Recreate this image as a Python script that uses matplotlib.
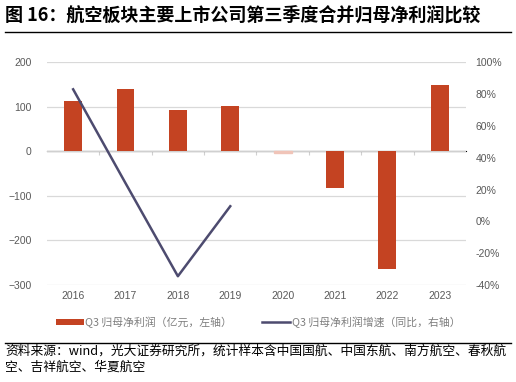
import numpy as np
import matplotlib
matplotlib.use('Agg')
import matplotlib.pyplot as plt
from matplotlib.ticker import FuncFormatter, FixedLocator, NullFormatter

plt.rcParams['font.family'] = ['Noto Sans CJK SC', 'DejaVu Sans']

years = ['2016', '2017', '2018', '2019', '2020', '2021', '2022', '2023']
profit = [114, 141, 92, 101, -3, -82, -264, 150]        # 亿元, left axis
growth_years = ['2016', '2017', '2018', '2019']
growth = [83, 24, -34.5, 9.5]                          # %, right axis

title = '图 16：航空板块主要上市公司第三季度合并归母净利润比较'
bar_label = 'Q3 归母净利润（亿元，左轴）'
line_label = 'Q3 归母净利润增速（同比，右轴）'
source = ('资料来源：wind，光大证券研究所，统计样本含中国国航、中国东航、南方航空、春秋航\n'
          '空、吉祥航空、华夏航空')

bar_color = '#C44322'
line_color = '#4D4B6F'
grid_color = '#D9D9D9'
tick_color = '#595959'
tick_font = ['Liberation Sans', 'DejaVu Sans']

fig = plt.figure(figsize=(5.16, 3.82), dpi=100)
ax = fig.add_axes([0.091, 0.254, 0.812, 0.583])

x = np.arange(len(years))
bars = ax.bar(x, profit, width=0.34, color=bar_color, zorder=3, label=bar_label)
bars[4].set_color('#F0C4B8')

ax.set_xlim(-0.5, len(years) - 0.5)
ax.set_ylim(-300, 200)
ax.set_yticks([-300, -200, -100, 0, 100, 200])
for v in [-300, -200, -100, 100, 200]:
    ax.axhline(v, color=grid_color, lw=0.9, zorder=1)
ax.axhline(0, color='#D0D0D0', lw=1.0, zorder=2)

for s in ax.spines.values():
    s.set_visible(False)
ax.set_xticks(x)
ax.set_xticklabels(years, fontsize=7.5, color=tick_color, family=tick_font)
ax.tick_params(axis='x', length=0, pad=4)
ax.tick_params(axis='y', length=0, pad=11, labelsize=7.5, labelcolor=tick_color)
for lbl in ax.get_yticklabels():
    lbl.set_family(tick_font)

# small category ticks on the zero line
sec = ax.secondary_xaxis(0.6)
sec.spines['bottom'].set_visible(False)
sec.xaxis.set_major_locator(FixedLocator(x[:-1] + 0.5))
sec.xaxis.set_major_formatter(NullFormatter())
sec.tick_params(axis='x', direction='in', length=3, color='#D0D0D0')

ax2 = ax.twinx()
ax2.set_ylim(-40, 100)
ax2.set_yticks(np.arange(-40, 101, 20))
ax2.yaxis.set_major_formatter(FuncFormatter(lambda v, p: f'{v:.0f}%'))
gx = [years.index(y) for y in growth_years]
ax2.plot(gx, growth, color=line_color, lw=1.8, zorder=4, label=line_label)
for s in ax2.spines.values():
    s.set_visible(False)
ax2.tick_params(axis='y', length=0, pad=7, labelsize=7.5, labelcolor=tick_color)
for lbl in ax2.get_yticklabels():
    lbl.set_family(tick_font)

h1, l1 = ax.get_legend_handles_labels()
h2, l2 = ax2.get_legend_handles_labels()
leg = fig.legend(h1 + h2, l1 + l2, loc='center', bbox_to_anchor=(0.50, 1 - 322 / 382),
                 ncol=2, frameon=False, fontsize=7.8, handlelength=2.6, handleheight=0.5,
                 handletextpad=0.1, columnspacing=2.8)
for t in leg.get_texts():
    t.set_color('#7F7F7F')

fig.text(0.01, 1 - 15 / 382, title, fontsize=13, fontweight='bold', va='center', ha='left')
fig.add_artist(plt.Line2D([0.01, 0.99], [1 - 31.5 / 382, 1 - 31.5 / 382], color='black', lw=1.0))
fig.add_artist(plt.Line2D([0.01, 0.99], [1 - 342.5 / 382, 1 - 342.5 / 382], color='black', lw=1.0))
fig.text(0.01, 1 - 345 / 382, source, fontsize=9.2, va='top', ha='left', linespacing=1.3)

fig.savefig('out.png', dpi=100)
